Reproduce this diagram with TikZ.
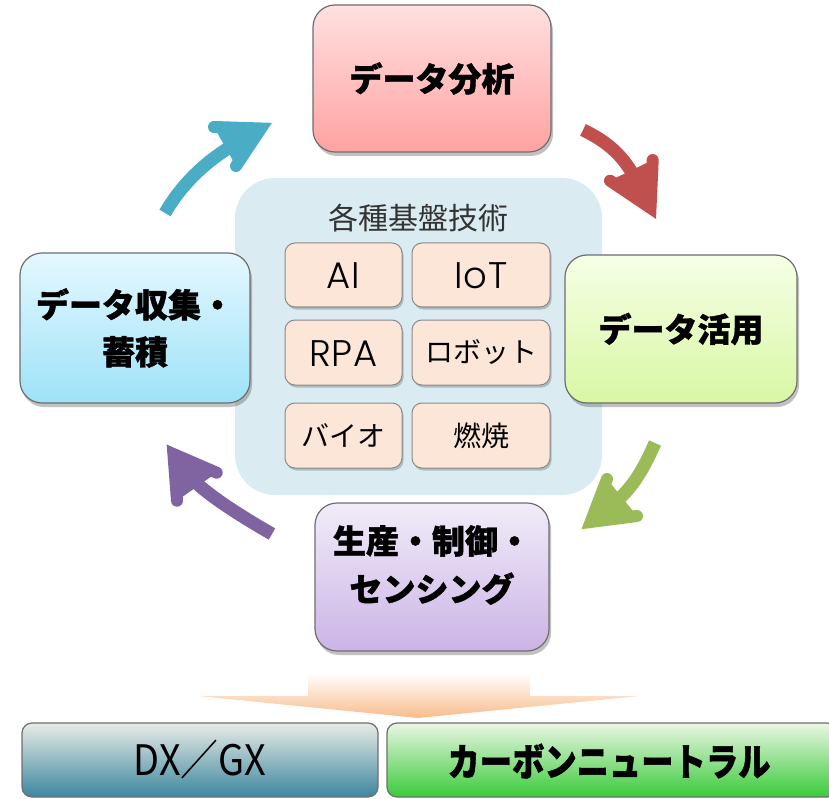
\documentclass[tikz,border=0pt]{standalone}
\usepackage{fontspec}
\newfontfamily\jp{Noto Sans CJK JP}
\newfontfamily\jpH{Noto Sans CJK JP}[BoldFeatures={FakeBold=1.2}]
\newfontfamily\lat{Poppins Light}[LetterSpace=3]
\usetikzlibrary{shadows}
\definecolor{boxline}{HTML}{6E6E6E}
\definecolor{pinkT}{HTML}{FFE0E0}
\definecolor{pinkB}{HTML}{FFA2A2}
\definecolor{cyanT}{HTML}{E4F8FF}
\definecolor{cyanB}{HTML}{9EE2F8}
\definecolor{greenT}{HTML}{F6FFE6}
\definecolor{greenB}{HTML}{D8F7A4}
\definecolor{lavT}{HTML}{F1ECF9}
\definecolor{lavB}{HTML}{CBB4E6}
\definecolor{panelC}{HTML}{DAECF2}
\definecolor{peach}{HTML}{FCE6D8}
\definecolor{smallline}{HTML}{8A8A8A}
\definecolor{titleC}{HTML}{333333}
\definecolor{tealA}{HTML}{4BACC6}
\definecolor{redA}{HTML}{C0504D}
\definecolor{greenA}{HTML}{9BBB59}
\definecolor{purpleA}{HTML}{8064A2}
\definecolor{orangeA}{HTML}{F9BC8C}
\definecolor{dxT}{HTML}{E8ECE6}
\definecolor{dxM}{HTML}{A6D2DE}
\definecolor{dxB}{HTML}{3D86A0}
\definecolor{cnT}{HTML}{EAF6E4}
\definecolor{cnB}{HTML}{3ACB3A}
\begin{document}
\begin{tikzpicture}[x=1pt,y=-1pt,
  bigbox/.style={draw=boxline, line width=1.2pt, rounded corners=22pt, inner sep=0pt,
    align=center, font=\jpH\bfseries\fontsize{33}{47}\selectfont,
    drop shadow={shadow xshift=2pt, shadow yshift=-4pt, opacity=0.35, fill=black!70}},
  bigtext/.style={align=center, font=\jpH\bfseries\fontsize{33}{48}\selectfont, inner sep=0pt},
  smallbox/.style={draw=smallline, line width=1pt, fill=peach, rounded corners=10pt, inner sep=0pt,
    drop shadow={shadow xshift=1.5pt, shadow yshift=-2.5pt, opacity=0.3, fill=black!70}},
  latxt/.style={font=\lat\fontsize{37}{40}\selectfont},
  jptxt/.style={font=\jp\fontsize{28}{30}\selectfont},
  shaft/.style={line width=13pt, line cap=butt},
  headline/.style={line width=12pt, line cap=round, line join=miter},
  bar/.style={draw=boxline, line width=1.2pt, rounded corners=10pt, inner sep=0pt},
]
\useasboundingbox (0,0) rectangle (829,799);

% centre panel
\node[fill=panelC, rounded corners=40pt, minimum width=367pt, minimum height=317pt, inner sep=0pt] (panel) at (418.5,336.5) {};
\node[font=\jp\fontsize{30}{32}\selectfont, text=titleC, inner sep=0pt] (title) at (418,218) {各種基盤技術};

\node[smallbox, minimum width=117pt, minimum height=64pt] (ai) at (343.5,275) {};
\node[latxt] at ([yshift=-1pt]ai.center) {AI};
\node[smallbox, minimum width=138pt, minimum height=64pt] (iot) at (481,275) {};
\node[latxt] at ([yshift=-1pt]iot.center) {IoT};
\node[smallbox, minimum width=117pt, minimum height=65pt] (rpa) at (343.5,352.5) {};
\node[latxt] at ([yshift=-1pt]rpa.center) {RPA};
\node[smallbox, minimum width=138pt, minimum height=65pt] (robot) at (481,352.5) {};
\node[jptxt] at (robot.center) {ロボット};
\node[smallbox, minimum width=117pt, minimum height=65pt] (bio) at (343.5,435.5) {};
\node[jptxt] at (bio.center) {バイオ};
\node[smallbox, minimum width=138pt, minimum height=65pt] (burn) at (481,435.5) {};
\node[jptxt] at (burn.center) {燃焼};

% four main boxes
\node[bigbox, top color=pinkT, bottom color=pinkB, minimum width=238pt, minimum height=147pt] (ana) at (432,78.5) {データ分析};
\node[bigbox, top color=cyanT, bottom color=cyanB, minimum width=230pt, minimum height=150pt] (col) at (135,328) {データ収集・\\蓄積};
\node[bigbox, top color=greenT, bottom color=greenB, minimum width=232pt, minimum height=148pt] (use) at (681,329) {データ活用};
\node[bigbox, top color=lavT, bottom color=lavB, minimum width=234pt, minimum height=148pt] (prod) at (432,577) {};
\node[bigtext] (prodtxt) at ([yshift=12pt]prod.center) {生産・制御・\\センシング};

% teal arrow
\coordinate (tT) at (165,213);
\coordinate (tE) at (248,137);
\coordinate (tP) at (261,128.5);
\coordinate (tB1) at (214,127);
\coordinate (tB2) at (236,166);
\draw[shaft, tealA] (tT) .. controls (187.5,174) and (221,150.5) .. (tE);
\fill[tealA] (tB1) -- (tP) -- (tB2) -- cycle;
\draw[headline, tealA] (tB1) -- (tP) -- (tB2);

% red arrow
\coordinate (rT) at (583,130);
\coordinate (rE) at (639,186);
\coordinate (rP) at (650.5,208);
\coordinate (rB1) at (652.7,160);
\coordinate (rB2) at (610,180.7);
\draw[shaft, redA] (rT) .. controls (619,147) and (630,168) .. (rE);
\fill[redA] (rB1) -- (rP) -- (rB2) -- cycle;
\draw[headline, redA] (rB1) -- (rP) -- (rB2);

% green arrow
\coordinate (gT) at (655,443);
\coordinate (gE) at (610,506.5);
\coordinate (gP) at (590.6,522);
\coordinate (gB1) at (607,479);
\coordinate (gB2) at (637,516);
\draw[shaft, greenA] (gT) .. controls (639,480) and (626,494) .. (gE);
\fill[greenA] (gB1) -- (gP) -- (gB2) -- cycle;
\draw[headline, greenA] (gB1) -- (gP) -- (gB2);

% purple arrow
\coordinate (pT) at (272,534);
\coordinate (pE) at (188,474);
\coordinate (pP) at (173.4,454);
\coordinate (pB1) at (177,500.7);
\coordinate (pB2) at (216.7,472.7);
\draw[shaft, purpleA] (pT) .. controls (237,514) and (200,490) .. (pE);
\fill[purpleA] (pB1) -- (pP) -- (pB2) -- cycle;
\draw[headline, purpleA] (pB1) -- (pP) -- (pB2);

% big orange down arrow
\shade[top color=white, bottom color=orangeA] (308,673) -- (530,673) -- (530,696) -- (640,696) -- (418,718) -- (198,696) -- (308,696) -- cycle;

% bottom bars
\node[bar, top color=dxT, middle color=dxM, bottom color=dxB, minimum width=356pt, minimum height=74pt] (dx) at (200,760) {};
\node[font=\jp\fontsize{42}{44}\selectfont, inner sep=0pt] at (dx.center) {\scalebox{0.9}[1]{DX／GX}};
\node[bar, top color=cnT, bottom color=cnB, minimum width=450pt, minimum height=74pt] (cn) at (612,760) {};
\node[font=\jpH\bfseries\fontsize{38}{40}\selectfont, inner sep=0pt] at (609,761) {\scalebox{0.85}[1]{カーボンニュートラル}};
\end{tikzpicture}
\end{document}
